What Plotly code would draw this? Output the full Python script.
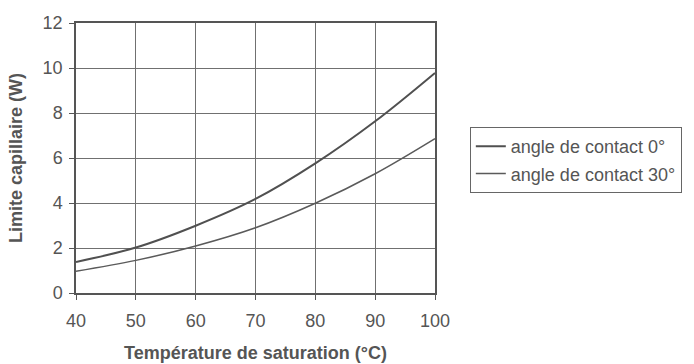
import plotly.graph_objects as go

temperature = [40, 50, 60, 70, 80, 90, 100]
limite_0deg = [1.38, 2.02, 2.99, 4.18, 5.76, 7.63, 9.78]
limite_30deg = [0.97, 1.45, 2.09, 2.9, 3.99, 5.3, 6.86]
series_names = ["angle de contact 0°", "angle de contact 30°"]
x_ticks = [40, 50, 60, 70, 80, 90, 100]
y_ticks = [0, 2, 4, 6, 8, 10, 12]

grey = "#555555"
font = "Liberation Sans, Arial, sans-serif"

fig = go.Figure()
fig.add_trace(go.Scatter(x=temperature, y=limite_0deg, mode="lines", name=series_names[0],
                         legendgroup="a",
                         line=dict(color="#505050", width=2, shape="spline")))
fig.add_trace(go.Scatter(x=temperature, y=limite_30deg, mode="lines", name=series_names[1],
                         legendgroup="b",
                         line=dict(color="#5a5a5a", width=1.5, shape="spline")))

fig.update_layout(
    width=694, height=364,
    margin=dict(l=76, r=257, t=23, b=71),
    paper_bgcolor="white", plot_bgcolor="white",
    font=dict(family=font, color=grey, size=18),
    showlegend=True,
    legend=dict(x=1.097, y=0.615, xanchor="left", yanchor="top",
                bordercolor="#666666", borderwidth=1, bgcolor="white",
                font=dict(size=18, color=grey), tracegroupgap=1,
                traceorder="grouped", itemwidth=30),
    xaxis=dict(range=[40, 100], tickvals=x_ticks, showgrid=True, gridcolor="#707070", gridwidth=1,
               showline=True, linecolor="#555555", linewidth=1.5, mirror=True,
               ticks="outside", ticklen=5, tickcolor="#555555", automargin=False,
               ticklabelstandoff=6,
               tickfont=dict(size=18, color=grey), zeroline=False,
               title=dict(text="<b>Température de saturation (°C)</b>", font=dict(size=18, color=grey),
                          standoff=16)),
    yaxis=dict(range=[0, 12], tickvals=y_ticks, showgrid=True, gridcolor="#707070", gridwidth=1,
               showline=True, linecolor="#555555", linewidth=1.5, mirror=True,
               ticks="outside", ticklen=5, tickcolor="#555555", automargin=False,
               ticklabelstandoff=3,
               tickfont=dict(size=18, color=grey), zeroline=False,
               title=dict(text="<b>Limite capillaire (W)</b>", font=dict(size=18, color=grey))),
)

fig.write_html("out.html", config={"displayModeBar": False},
               post_script="document.body.style.margin='0';")
